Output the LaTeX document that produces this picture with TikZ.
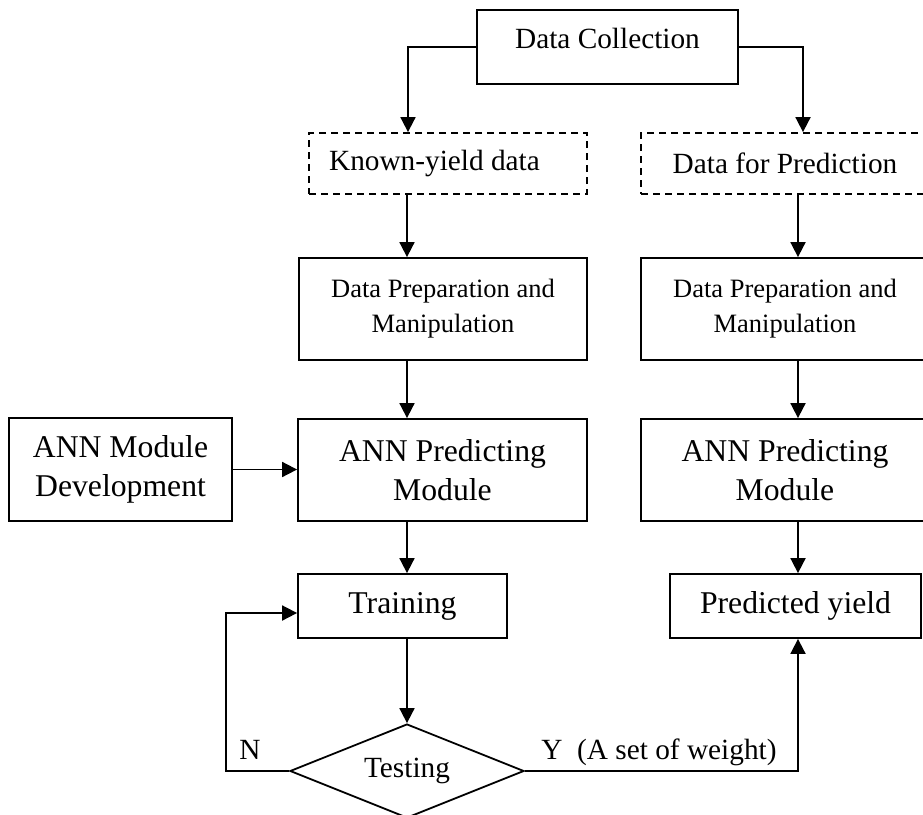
\documentclass[tikz,border=0pt]{standalone}
\usepackage{fontspec}
\setmainfont{Liberation Serif}
\usetikzlibrary{arrows.meta,shapes.geometric}
\begin{document}
\begin{tikzpicture}[x=1pt,y=-1pt,
  box/.style={draw, line width=1.8pt, inner sep=0pt, align=center},
  dbox/.style={box, dash pattern=on 7pt off 5pt},
  fa/.style={font=\fontsize{29.3pt}{36pt}\selectfont},
  fb/.style={font=\fontsize{31.7pt}{39pt}\selectfont},
  fc/.style={font=\fontsize{26.5pt}{35pt}\selectfont},
  arr/.style={line width=1.8pt, -{Triangle[length=15pt,width=15pt]}}]
\useasboundingbox (0,0) rectangle (923,814);

\node[box, fa, minimum width=261pt, text height=38pt, text depth=36pt] (dc) at (607.5,47) {Data Collection};
\node[dbox, fa, minimum width=278pt, minimum height=61pt] (kyd) at (448,163.5) {Known-yield data\hspace{27pt}};
\node[dbox, fa, minimum width=288pt, minimum height=61pt] (dfp) at (785,163.5) {Data for Prediction};
\node[box, fc, minimum width=288pt, minimum height=102pt] (dp1) at (443,309) {Data Preparation and\\Manipulation};
\node[box, fc, minimum width=288pt, minimum height=102pt] (dp2) at (785,309) {Data Preparation and\\Manipulation};
\node[box, fb, minimum width=223pt, minimum height=103pt] (annd) at (120.5,469.5) {ANN Module\\Development};
\node[box, fb, minimum width=289pt, minimum height=102pt] (ann1) at (442.5,470) {ANN Predicting\\Module};
\node[box, fb, minimum width=288pt, minimum height=102pt] (ann2) at (785,470) {ANN Predicting\\Module};
\node[box, fb, minimum width=209pt, minimum height=64pt] (tr) at (402.5,606) {Training};
\node[box, fb, minimum width=251pt, minimum height=64pt] (py) at (795.5,606) {Predicted yield};
\node[draw, diamond, aspect=2.5, line width=1.8pt, inner sep=0pt, minimum width=234pt, minimum height=94pt, fa] (te) at (407,771) {Testing};

\node[fa, anchor=base] (nlab) at (250,759) {N};
\node[fa, anchor=base] (ylab) at (659,759) {Y\ \ (A set of weight)};

\draw[arr] (dc.west) -| ([xshift=-40pt]kyd.north);
\draw[arr] (dc.east) -| ([xshift=18pt]dfp.north);
\draw[arr] (kyd.south -| te.north) -- (dp1.north -| te.north);
\draw[arr] ([xshift=13pt]dfp.south) -- ([xshift=13pt]dp2.north);
\draw[arr] (dp1.south -| te.north) -- (ann1.north -| te.north);
\draw[arr] ([xshift=13pt]dp2.south) -- ([xshift=13pt]ann2.north);
\draw[arr] (annd.east) -- (annd.east -| ann1.west);
\draw[arr] (ann1.south -| te.north) -- (tr.north -| te.north);
\draw[arr] ([xshift=13pt]ann2.south) -- ([xshift=13pt]ann2.south |- py.north);
\draw[arr] (tr.south -| te.north) -- (te.north);
\draw[arr] (te.west) -- ++(-63,0) |- ([yshift=-7pt]tr.west);
\draw[arr] (te.east) -| ([xshift=13pt]ann2.south |- py.south);
\end{tikzpicture}
\end{document}
